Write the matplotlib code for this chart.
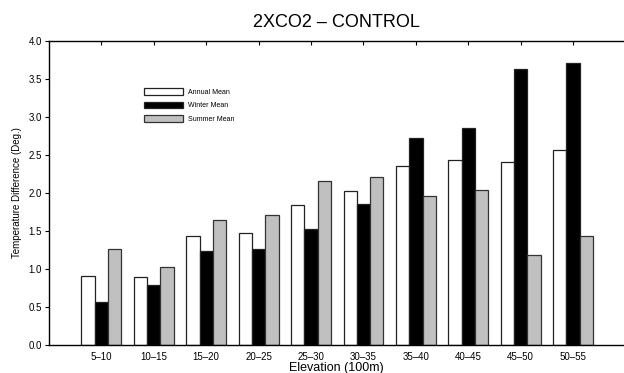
import matplotlib
matplotlib.use("Agg")
import matplotlib.pyplot as plt
import numpy as np

plt.rcParams["font.family"] = ["Liberation Sans", "DejaVu Sans"]

# --- data ---
elevation_bins = ["5\u201310", "10\u201315", "15\u201320", "20\u201325", "25\u201330",
                  "30\u201335", "35\u201340", "40\u201345", "45\u201350", "50\u201355"]
annual_mean = [0.91, 0.90, 1.44, 1.48, 1.84, 2.03, 2.35, 2.44, 2.41, 2.57]
winter_mean = [0.56, 0.79, 1.24, 1.26, 1.53, 1.86, 2.73, 2.86, 3.63, 3.71]
summer_mean = [1.26, 1.03, 1.64, 1.71, 2.16, 2.21, 1.96, 2.04, 1.19, 1.43]

y_ticks = [0.0, 0.5, 1.0, 1.5, 2.0, 2.5, 3.0, 3.5, 4.0]

fig = plt.figure(figsize=(6.24, 3.73), dpi=100)
ax = fig.add_axes([0.0785, 0.0751, 0.9215, 0.815])

x = np.arange(1, len(elevation_bins) + 1)
width = 0.254

ax.bar(x - width, annual_mean, width, color="white", edgecolor="#222222",
       linewidth=0.9, label="Annual Mean")
ax.bar(x, winter_mean, width, color="black", edgecolor="#222222",
       linewidth=0.9, label="Winter Mean")
ax.bar(x + width, summer_mean, width, color="#c0c0c0", edgecolor="#333333",
       linewidth=0.9, label="Summer Mean")

ax.set_xlim(0, 10.97)
ax.set_ylim(0, 4.0)

# y axis
ax.set_yticks(y_ticks)
ax.set_yticklabels([f"{v:.1f}" for v in y_ticks])
ax.tick_params(axis="y", direction="out", length=3, width=0.8, pad=2,
               labelsize=7)

# x axis: labels at the bottom, tick marks only along the top spine
ax.set_xticks(x)
ax.set_xticklabels(elevation_bins)
ax.tick_params(axis="x", direction="in", length=3, width=0.8, pad=5,
               labelsize=7, top=True, bottom=True, labeltop=False)
for t in ax.xaxis.get_major_ticks():
    t.tick1line.set_visible(False)

ax.spines["right"].set_visible(False)
for side in ["left", "bottom", "top"]:
    ax.spines[side].set_linewidth(1.0)

ax.set_xlabel("Elevation (100m)", fontsize=9, labelpad=0)
ax.set_ylabel("Temperature Difference (Deg.)", fontsize=7, labelpad=5)
ax.set_title("2XCO2 \u2013 CONTROL", fontsize=13, pad=10)

ax.legend(loc="upper left", bbox_to_anchor=(0.2313, 0.7633),
          bbox_transform=fig.transFigure, frameon=False, fontsize=5,
          borderpad=0, borderaxespad=0, handlelength=5.6, handleheight=1.07,
          labelspacing=0.85, handletextpad=0.72)

fig.savefig("out.png", dpi=100)
